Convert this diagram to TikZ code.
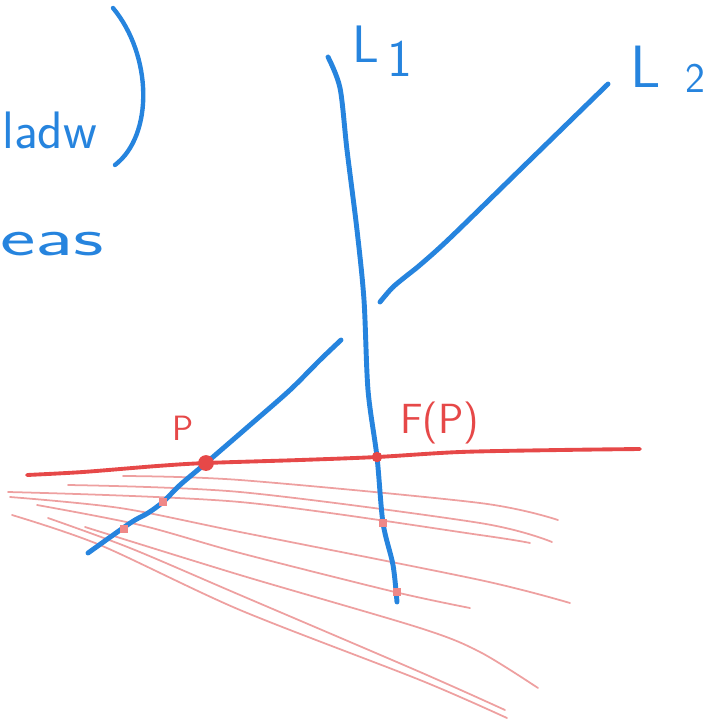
\documentclass[tikz,border=0pt]{standalone}
\usepackage{fontspec}
\usepackage{tikz}
\usetikzlibrary{calc}
\definecolor{penblue}{RGB}{38,132,222}
\definecolor{penred}{RGB}{230,72,72}
\definecolor{pencil}{RGB}{236,150,150}

\begin{document}
\begin{tikzpicture}[
  x=0.02cm, y=-0.02cm,
  font=\sffamily,
  ink/.style={penblue, line width=2.8pt, line cap=round, line join=round},
  redink/.style={penred, line width=2.2pt, line cap=round, line join=round},
  ray/.style={pencil, line width=1pt, line cap=round, opacity=0.9},
  dot/.style={circle, fill=penred, inner sep=0pt, minimum size=#1},
  mrk/.style={rectangle, fill=penred!65, inner sep=0pt, minimum size=4pt},
  lbl/.style={inner sep=0pt, anchor=base west}
]
\useasboundingbox (0,0) rectangle (711,724);

% pencil rays
\draw[ray] plot[smooth, tension=0.5] coordinates {(123,476) (240,480) (480,503) (558,520)};
\draw[ray] plot[smooth, tension=0.5] coordinates {(68,485) (240,492) (480,523) (552,542)};
\draw[ray] plot[smooth, tension=0.5] coordinates {(8,492) (240,502) (480,535) (530,543)};
\draw[ray] plot[smooth, tension=0.5] coordinates {(10,497) (120,508) (240,532) (480,580) (570,603)};
\draw[ray] plot[smooth, tension=0.5] coordinates {(37,505) (140,525) (240,553) (395,592) (470,608)};
\draw[ray] plot[smooth, tension=0.5] coordinates {(85,527) (240,575) (420,628) (480,652) (538,688)};
\draw[ray] plot[smooth, tension=0.5] coordinates {(48,518) (130,548) (240,595) (420,672) (505,710)};
\draw[ray] plot[smooth, tension=0.5] coordinates {(12,515) (100,545) (240,610) (420,680) (507,718)};

% the red line
\coordinate (p) at (206,463);
\coordinate (fp) at (377,457);
\draw[redink] plot[smooth] coordinates {(27,475) (83,472) (157,466) (p) (300,460) (fp) (460,452) (560,450) (640,449)};

% L1 and L2
\draw[ink] plot[smooth] coordinates {(328,57) (340,88) (347,150) (357,230) (364,300) (368,390) (fp) (383,523) (393,565) (397,602)};
\draw[ink] plot[smooth] coordinates {(608,84) (528,162) (450,238) (420,265) (405,277) (392,288) (380,302)};
\draw[ink] plot[smooth] coordinates {(341,340) (320,360) (290,390) (250,425) (p) (180,485) (163,502) (148,513) (135,520) (123,528) (88,553)};

% points
\node[dot=9pt] (pdot) at (p) {};
\node[dot=6pt] (fpdot) at (fp) {};
\node[mrk] (m1) at (163,502) {};
\node[mrk] (m2) at (124,529) {};
\node[mrk] (m3) at (383,523) {};
\node[mrk] (m4) at (397,592) {};

% labels
\node[lbl, text=penred, font=\sffamily\fontsize{20}{20}\selectfont] (plab) at (172,440) {P};
\node[lbl, text=penred, font=\sffamily\fontsize{24}{24}\selectfont] (fplab) at (400,433) {F(P)};
\node[lbl, text=penblue, font=\sffamily\fontsize{30}{30}\selectfont] (l1lab) at (352,62) {L\,\raisebox{-8pt}{1}};
\node[lbl, text=penblue, font=\sffamily\fontsize{34}{34}\selectfont] (l2lab) at (630,87) {L\hspace{14pt}\raisebox{-3pt}{\fontsize{24}{24}\selectfont 2}};

% margin notes
\node[lbl, text=penblue, font=\sffamily\fontsize{30}{30}\selectfont] (word1) at (2,148) {ladw};
\draw[ink, line width=2.5pt] (113,8) .. controls (152,55) and (154,135) .. (115,165);
\node[lbl, text=penblue, font=\sffamily\fontsize{30}{30}\selectfont, xscale=1.6] (word2) at (0,255) {eas};
\end{tikzpicture}
\end{document}
